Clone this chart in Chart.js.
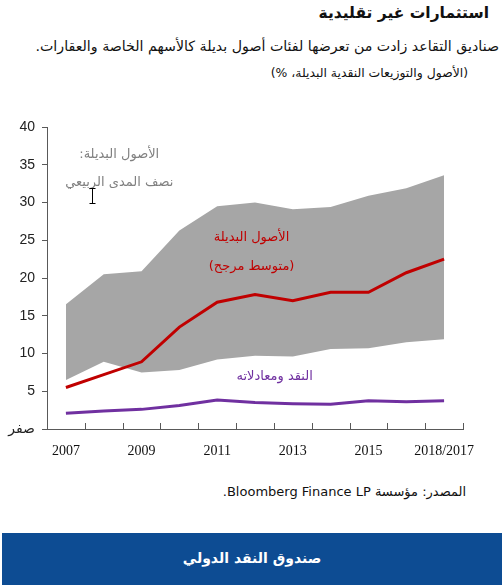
<!DOCTYPE html>
<html lang="ar">
<head>
<meta charset="utf-8">
<script src="https://cdn.jsdelivr.net/npm/chart.js@4.4.1/dist/chart.umd.min.js"></script>
<style>
  html,body{margin:0;padding:0;background:#fff;}
  body{width:503px;height:585px;position:relative;overflow:hidden;font-family:"DejaVu Sans","Noto Sans",sans-serif;}
  .t{position:absolute;direction:rtl;white-space:nowrap;color:#111;}
  #title{right:14px;top:4px;font-size:15.5px;font-weight:bold;}
  #sub1{right:4px;top:38px;font-size:14.2px;}
  #sub2{right:35px;top:65px;font-size:12.4px;}
  #src{right:37px;top:484px;font-size:13px;}
  #footer{position:absolute;left:2px;top:533px;width:500px;height:52px;background:#0d4c93;color:#fff;font-weight:bold;font-size:14px;text-align:center;line-height:50px;direction:rtl;}
  #wrap{position:absolute;left:0;top:100px;width:503px;height:380px;}
</style>
</head>
<body>
<div class="t" id="title">استثمارات غير تقليدية</div>
<div class="t" id="sub1">صناديق التقاعد زادت من تعرضها لفئات أصول بديلة كالأسهم الخاصة والعقارات.</div>
<div class="t" id="sub2">(الأصول والتوزيعات النقدية البديلة، %)</div>
<div id="wrap"><canvas id="c"></canvas></div>
<div class="t" id="src">المصدر: مؤسسة Bloomberg Finance LP.</div>
<div id="footer">صندوق النقد الدولي</div>
<script>
const categories = ['2007','2008','2009','2010','2011','2012','2013','2014','2015','2016','2018/2017'];
const altWeighted = [5.5, 7.2, 8.9, 13.5, 16.8, 17.8, 17.0, 18.1, 18.1, 20.7, 22.5];
const iqrUpper    = [16.5, 20.5, 20.9, 26.3, 29.5, 30.0, 29.1, 29.4, 30.9, 31.9, 33.6];
const iqrLower    = [6.5, 8.9, 7.5, 7.8, 9.2, 9.7, 9.6, 10.6, 10.7, 11.5, 11.9];
const cashEquiv   = [2.1, 2.4, 2.6, 3.1, 3.85, 3.5, 3.35, 3.27, 3.75, 3.6, 3.75];
const yTicks = [0, 5, 10, 15, 20, 25, 30, 35, 40];
const zeroLabel = 'صفر';

const annotations = [
  {text:'الأصول البديلة:', x:1.41, y:36.3, color:'#808080'},
  {text:'نصف المدى الربيعي', x:1.41, y:32.6, color:'#808080'},
  {text:'الأصول البديلة', x:4.91, y:25.3, color:'#c00000'},
  {text:'(متوسط مرجح)', x:4.91, y:21.5, color:'#c00000'},
  {text:'النقد ومعادلاته', x:5.52, y:6.9, color:'#7030a0'}
];
const iBeam = {x:0.69, y1:29.9, y2:31.9};

const overlay = {
  id:'overlay',
  afterDraw(chart){
    const ctx = chart.ctx, xs = chart.scales.x, ys = chart.scales.y;
    ctx.save();
    ctx.strokeStyle = '#595959'; ctx.lineWidth = 1;
    const n = categories.length;
    for(let i=0;i<=n;i++){
      const px = Math.round(xs.left + i*(xs.right-xs.left)/n)+0.5;
      ctx.beginPath(); ctx.moveTo(px, ys.bottom); ctx.lineTo(px, ys.bottom-6); ctx.stroke();
    }
    ctx.font = '13px "DejaVu Sans", sans-serif';
    ctx.textAlign = 'center'; ctx.textBaseline = 'middle';
    ctx.direction = 'rtl';
    annotations.forEach(a=>{
      ctx.fillStyle = a.color;
      ctx.fillText(a.text, xs.getPixelForValue(a.x), ys.getPixelForValue(a.y));
    });
    const bx = Math.round(xs.getPixelForValue(iBeam.x))+0.5;
    const by1 = ys.getPixelForValue(iBeam.y1), by2 = ys.getPixelForValue(iBeam.y2);
    ctx.strokeStyle = '#000'; ctx.lineWidth = 1;
    ctx.beginPath();
    ctx.moveTo(bx, by1); ctx.lineTo(bx, by2);
    ctx.moveTo(bx-3, Math.round(by1)+0.5); ctx.lineTo(bx+3, Math.round(by1)+0.5);
    ctx.moveTo(bx-3, Math.round(by2)+0.5); ctx.lineTo(bx+3, Math.round(by2)+0.5);
    ctx.stroke();
    ctx.restore();
  }
};

new Chart(document.getElementById('c'), {
  type:'line',
  data:{
    labels: categories,
    datasets:[
      {label:'alt', data:altWeighted, borderColor:'#c00000', borderWidth:3, pointRadius:0, tension:0, fill:false},
      {label:'cash', data:cashEquiv, borderColor:'#7030a0', borderWidth:3, pointRadius:0, tension:0, fill:false},
      {label:'upper', data:iqrUpper, borderWidth:0, borderColor:'rgba(0,0,0,0)', backgroundColor:'#a6a6a6', pointRadius:0, tension:0, fill:'+1'},
      {label:'lower', data:iqrLower, borderWidth:0, borderColor:'rgba(0,0,0,0)', pointRadius:0, tension:0, fill:false}
    ]
  },
  options:{
    responsive:true, maintainAspectRatio:false, animation:false,
    layout:{padding:{top:27, left:7, right:40, bottom:0}},
    plugins:{legend:{display:false}, tooltip:{enabled:false}},
    scales:{
      x:{
        type:'category', offset:true,
        grid:{display:false, drawTicks:false},
        border:{display:true, color:'#595959', width:1},
        ticks:{autoSkip:false, maxRotation:0, padding:14, color:'#111',
          font:{family:'"Liberation Serif", serif', size:14},
          callback:(v,i)=> i%2===0 ? categories[i] : ''},
        afterFit:(s)=>{s.height = 51;}
      },
      y:{
        min:0, max:40,
        afterBuildTicks:(s)=>{s.ticks = yTicks.map(v=>({value:v}));},
        grid:{drawOnChartArea:false, drawTicks:true, tickLength:5, color:'#595959'},
        border:{display:true, color:'#595959', width:1},
        ticks:{padding:7, color:'#222', font:{family:'"Liberation Sans", "DejaVu Sans", sans-serif', size:14},
          callback:(v)=> v===0 ? zeroLabel : String(v)},
        afterFit:(s)=>{s.width = 40;}
      }
    }
  },
  plugins:[overlay]
});
</script>
</body>
</html>
